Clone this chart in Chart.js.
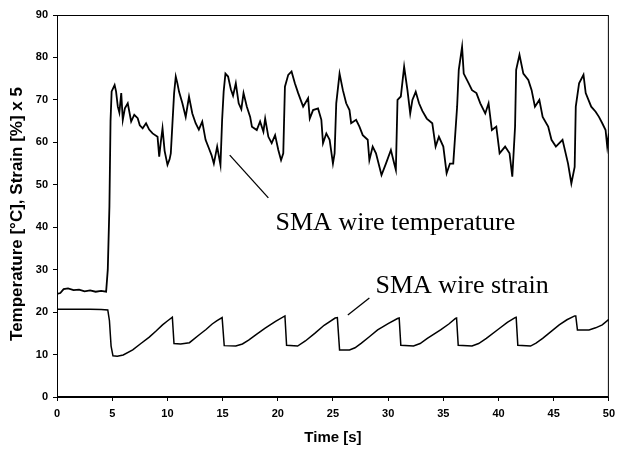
<!DOCTYPE html>
<html>
<head>
<meta charset="utf-8">
<script src="https://cdn.jsdelivr.net/npm/chart.js@4.4.1/dist/chart.umd.min.js"></script>
<style>
  html, body { margin: 0; padding: 0; background: #fff; }
  #wrap { width: 621px; height: 453px; }
</style>
</head>
<body>
<div id="wrap"><canvas id="c" width="621" height="453"></canvas></div>
<script>
// ---- Data ----
const tempTime = [0, 0.3, 0.6, 1.0, 1.5, 2.0, 2.5, 3.0, 3.5, 4.0, 4.45, 4.6, 4.75, 4.85, 4.95, 5.22, 5.35, 5.51, 5.65, 5.82, 5.96, 6.15, 6.41, 6.72, 7.0, 7.31, 7.5, 7.76, 8.07, 8.35, 8.66, 9.11, 9.26, 9.4, 9.56, 9.75, 10.01, 10.2, 10.31, 10.45, 10.61, 10.76, 10.9, 11.06, 11.36, 11.66, 11.96, 12.26, 12.56, 12.85, 13.16, 13.46, 13.76, 14.0, 14.21, 14.51, 14.81, 14.96, 15.1, 15.26, 15.5, 15.75, 15.95, 16.2, 16.46, 16.7, 16.9, 17.2, 17.5, 17.66, 18.1, 18.4, 18.7, 18.86, 19.15, 19.45, 19.76, 20.05, 20.3, 20.5, 20.65, 20.95, 21.25, 21.55, 21.85, 22.3, 22.75, 22.9, 23.2, 23.65, 23.95, 24.1, 24.4, 24.7, 25.0, 25.15, 25.3, 25.6, 25.9, 26.2, 26.5, 26.65, 27.1, 27.4, 27.7, 28.15, 28.3, 28.6, 28.9, 29.4, 29.8, 30.25, 30.55, 30.7, 30.85, 31.15, 31.45, 31.75, 32.0, 32.2, 32.5, 32.8, 33.1, 33.5, 34.0, 34.3, 34.6, 35.0, 35.3, 35.6, 35.9, 36.25, 36.4, 36.7, 36.85, 37.3, 37.6, 38.0, 38.35, 38.8, 39.1, 39.4, 39.8, 40.1, 40.6, 41.0, 41.25, 41.5, 41.6, 41.9, 42.25, 42.7, 43.0, 43.3, 43.7, 44.0, 44.5, 44.8, 45.2, 45.8, 46.3, 46.6, 46.9, 47.0, 47.3, 47.7, 47.9, 48.4, 48.8, 49.1, 49.4, 49.7, 49.85, 50.0];
const tempValue = [24.3, 24.5, 25.4, 25.6, 25.2, 25.3, 24.9, 25.1, 24.8, 25.0, 24.8, 30, 45, 65, 72, 73.5, 72, 68.4, 67, 71.6, 65.3, 68, 69.2, 64.9, 66.5, 65.7, 64, 63.3, 64.5, 63, 62.1, 61.3, 56.6, 60, 63.3, 58, 54.7, 56, 57.4, 64, 71.6, 75.5, 74, 71.9, 69.2, 66.0, 70.8, 66.8, 64.5, 63, 64.9, 60.6, 58.6, 57, 55.0, 59.0, 54.7, 65.3, 72, 76.2, 75.5, 72.5, 71, 73.9, 69.2, 67.8, 71.6, 68.4, 66.0, 63.7, 62.9, 64.9, 62.5, 65.6, 61.3, 59.8, 61.7, 58.2, 55.8, 57.4, 73.1, 75.9, 76.7, 73.9, 71.6, 68.4, 70.4, 65.6, 67.6, 68.0, 65.3, 59.8, 62.1, 60.6, 55.0, 57.4, 69.2, 76.2, 72.3, 69.2, 67.6, 64.5, 65.3, 63.7, 61.7, 60.6, 55.8, 59.0, 57.4, 52.3, 55.0, 58.2, 55.0, 53.5, 70.0, 70.8, 77.8, 72.3, 66.8, 70.0, 71.9, 69.2, 67.4, 65.6, 64.5, 59.0, 61.3, 59.0, 52.7, 55.0, 55.0, 68.4, 77.1, 82.5, 76.2, 73.9, 72.3, 71.6, 69.2, 66.8, 69.2, 62.9, 63.7, 57.4, 59.0, 57.4, 51.9, 63.7, 77.1, 80.6, 76.2, 74.7, 72.3, 68.4, 70.0, 66.0, 63.7, 60.6, 59.0, 60.6, 55.0, 50.3, 54.2, 68.4, 73.9, 75.9, 71.6, 68.4, 67.2, 66.0, 64.5, 62.9, 59.0, 62.1];

const strainTime = [0, 1, 2, 3, 4, 4.6, 4.75, 4.9, 5.07, 5.46, 6.0, 6.86, 7.6, 8.36, 9.0, 9.56, 10.0, 10.45, 10.6, 11.2, 12.0, 12.86, 13.5, 14.06, 14.5, 14.96, 15.15, 16.2, 16.8, 17.36, 18.1, 18.86, 19.8, 20.65, 20.8, 21.8, 22.5, 23.35, 24.2, 25.2, 25.4, 25.6, 26.5, 27.0, 27.55, 28.3, 29.05, 30.0, 30.85, 31.0, 31.15, 32.3, 32.9, 33.55, 34.75, 35.5, 36.1, 36.2, 36.35, 37.6, 38.2, 38.9, 40.1, 40.8, 41.5, 41.6, 41.75, 42.9, 43.4, 44.0, 45.5, 46.2, 46.9, 47.0, 47.15, 48.2, 48.8, 49.4, 50];
const strainValue = [20.7, 20.7, 20.7, 20.65, 20.6, 20.5, 18, 12, 9.7, 9.6, 9.9, 11.1, 12.6, 14.1, 15.6, 17.0, 17.9, 18.8, 12.6, 12.5, 12.8, 14.6, 15.9, 17.2, 18.0, 18.7, 12.1, 12.0, 12.5, 13.4, 14.8, 16.2, 17.8, 19.1, 12.2, 12.0, 13.2, 15.0, 16.9, 18.6, 18.7, 11.1, 11.1, 11.6, 12.65, 14.2, 15.8, 17.3, 18.5, 18.6, 12.2, 12.0, 12.6, 13.8, 15.8, 17.2, 18.5, 18.6, 12.2, 12.0, 12.6, 13.8, 16.2, 17.6, 18.7, 18.8, 12.2, 12.0, 12.7, 13.8, 17.0, 18.2, 19.1, 19.1, 15.8, 15.8, 16.3, 17.0, 18.3];

const xTicks = [0, 5, 10, 15, 20, 25, 30, 35, 40, 45, 50];
const yTicks = [0, 10, 20, 30, 40, 50, 60, 70, 80, 90];

const xTitle = 'Time [s]';
const yTitle = 'Temperature [°C], Strain [%] x 5';

// annotation texts and leader lines (anchored in data units)
const annoLabels = ['SMA wire temperature', 'SMA wire strain'];
const annoTextAt = [[19.8, 39.3], [28.85, 24.5]];
const annoLineFrom = [[15.65, 57.0], [26.35, 19.3]];
const annoLineTo = [[19.15, 46.9], [28.3, 23.3]];

// ---- Chart ----
const toPts = (xs, ys) => xs.map((x, i) => ({ x: x, y: ys[i] }));
const sansFam = "'Liberation Sans', Arial, sans-serif";
const tickFont = { family: sansFam, size: 11, weight: 'bold' };

const boxAndNotes = {
  id: 'boxAndNotes',
  afterDraw(chart) {
    const { ctx, chartArea: a, scales } = chart;
    const xs = scales.x, ys = scales.y;
    ctx.save();
    ctx.strokeStyle = '#000';
    ctx.lineWidth = 1;
    ctx.strokeRect(a.left + 0.5, a.top + 0.5, a.right - a.left - 1, a.bottom - a.top - 1);
    ctx.lineWidth = 1.3;
    ctx.fillStyle = '#000';
    for (let i = 0; i < annoLabels.length; i++) {
      ctx.beginPath();
      ctx.moveTo(xs.getPixelForValue(annoLineFrom[i][0]), ys.getPixelForValue(annoLineFrom[i][1]));
      ctx.lineTo(xs.getPixelForValue(annoLineTo[i][0]), ys.getPixelForValue(annoLineTo[i][1]));
      ctx.stroke();
      ctx.font = "26px 'Liberation Serif', 'Times New Roman', serif";
      ctx.textAlign = 'left';
      ctx.textBaseline = 'alphabetic';
      ctx.fillText(annoLabels[i], xs.getPixelForValue(annoTextAt[i][0]), ys.getPixelForValue(annoTextAt[i][1]));
    }
    // y axis title (drawn slightly below the plot centre, as in the reference)
    ctx.translate(17.5, (a.top + a.bottom) / 2 + 8);
    ctx.rotate(-Math.PI / 2);
    ctx.font = "bold 17px " + sansFam;
    ctx.textAlign = 'center';
    ctx.textBaseline = 'middle';
    ctx.fillText(yTitle, 0, 0);
    ctx.restore();
  }
};

new Chart(document.getElementById('c'), {
  type: 'line',
  data: {
    datasets: [
      { label: 'SMA wire temperature', data: toPts(tempTime, tempValue), borderColor: '#000', borderWidth: 1.8, pointRadius: 0, tension: 0, fill: false },
      { label: 'SMA wire strain', data: toPts(strainTime, strainValue), borderColor: '#000', borderWidth: 1.5, pointRadius: 0, tension: 0, fill: false }
    ]
  },
  options: {
    responsive: false,
    animation: false,
    layout: { padding: { top: 15, right: 8, left: 0, bottom: 0 } },
    plugins: { legend: { display: false }, tooltip: { enabled: false } },
    scales: {
      x: {
        type: 'linear', min: 0, max: 50,
        afterBuildTicks: s => { s.ticks = xTicks.map(v => ({ value: v })); },
        afterFit: s => { s.height = 56; },
        ticks: { font: tickFont, color: '#000', padding: 6, maxRotation: 0 },
        grid: { display: true, drawOnChartArea: false, drawTicks: true, tickLength: 4, color: '#000' },
        border: { display: true, color: '#000', width: 1 },
        title: { display: true, text: xTitle, font: { family: sansFam, size: 15, weight: 'bold' }, color: '#000', padding: { top: 0, bottom: 6 } }
      },
      y: {
        type: 'linear', min: 0, max: 90,
        afterBuildTicks: s => { s.ticks = yTicks.map(v => ({ value: v })); },
        afterFit: s => { s.width = 57; },
        ticks: { font: tickFont, color: '#000', padding: 5 },
        grid: { display: true, drawOnChartArea: false, drawTicks: true, tickLength: 4, color: '#000' },
        border: { display: true, color: '#000', width: 1 },
        title: { display: false }
      }
    }
  },
  plugins: [boxAndNotes]
});
</script>
</body>
</html>
